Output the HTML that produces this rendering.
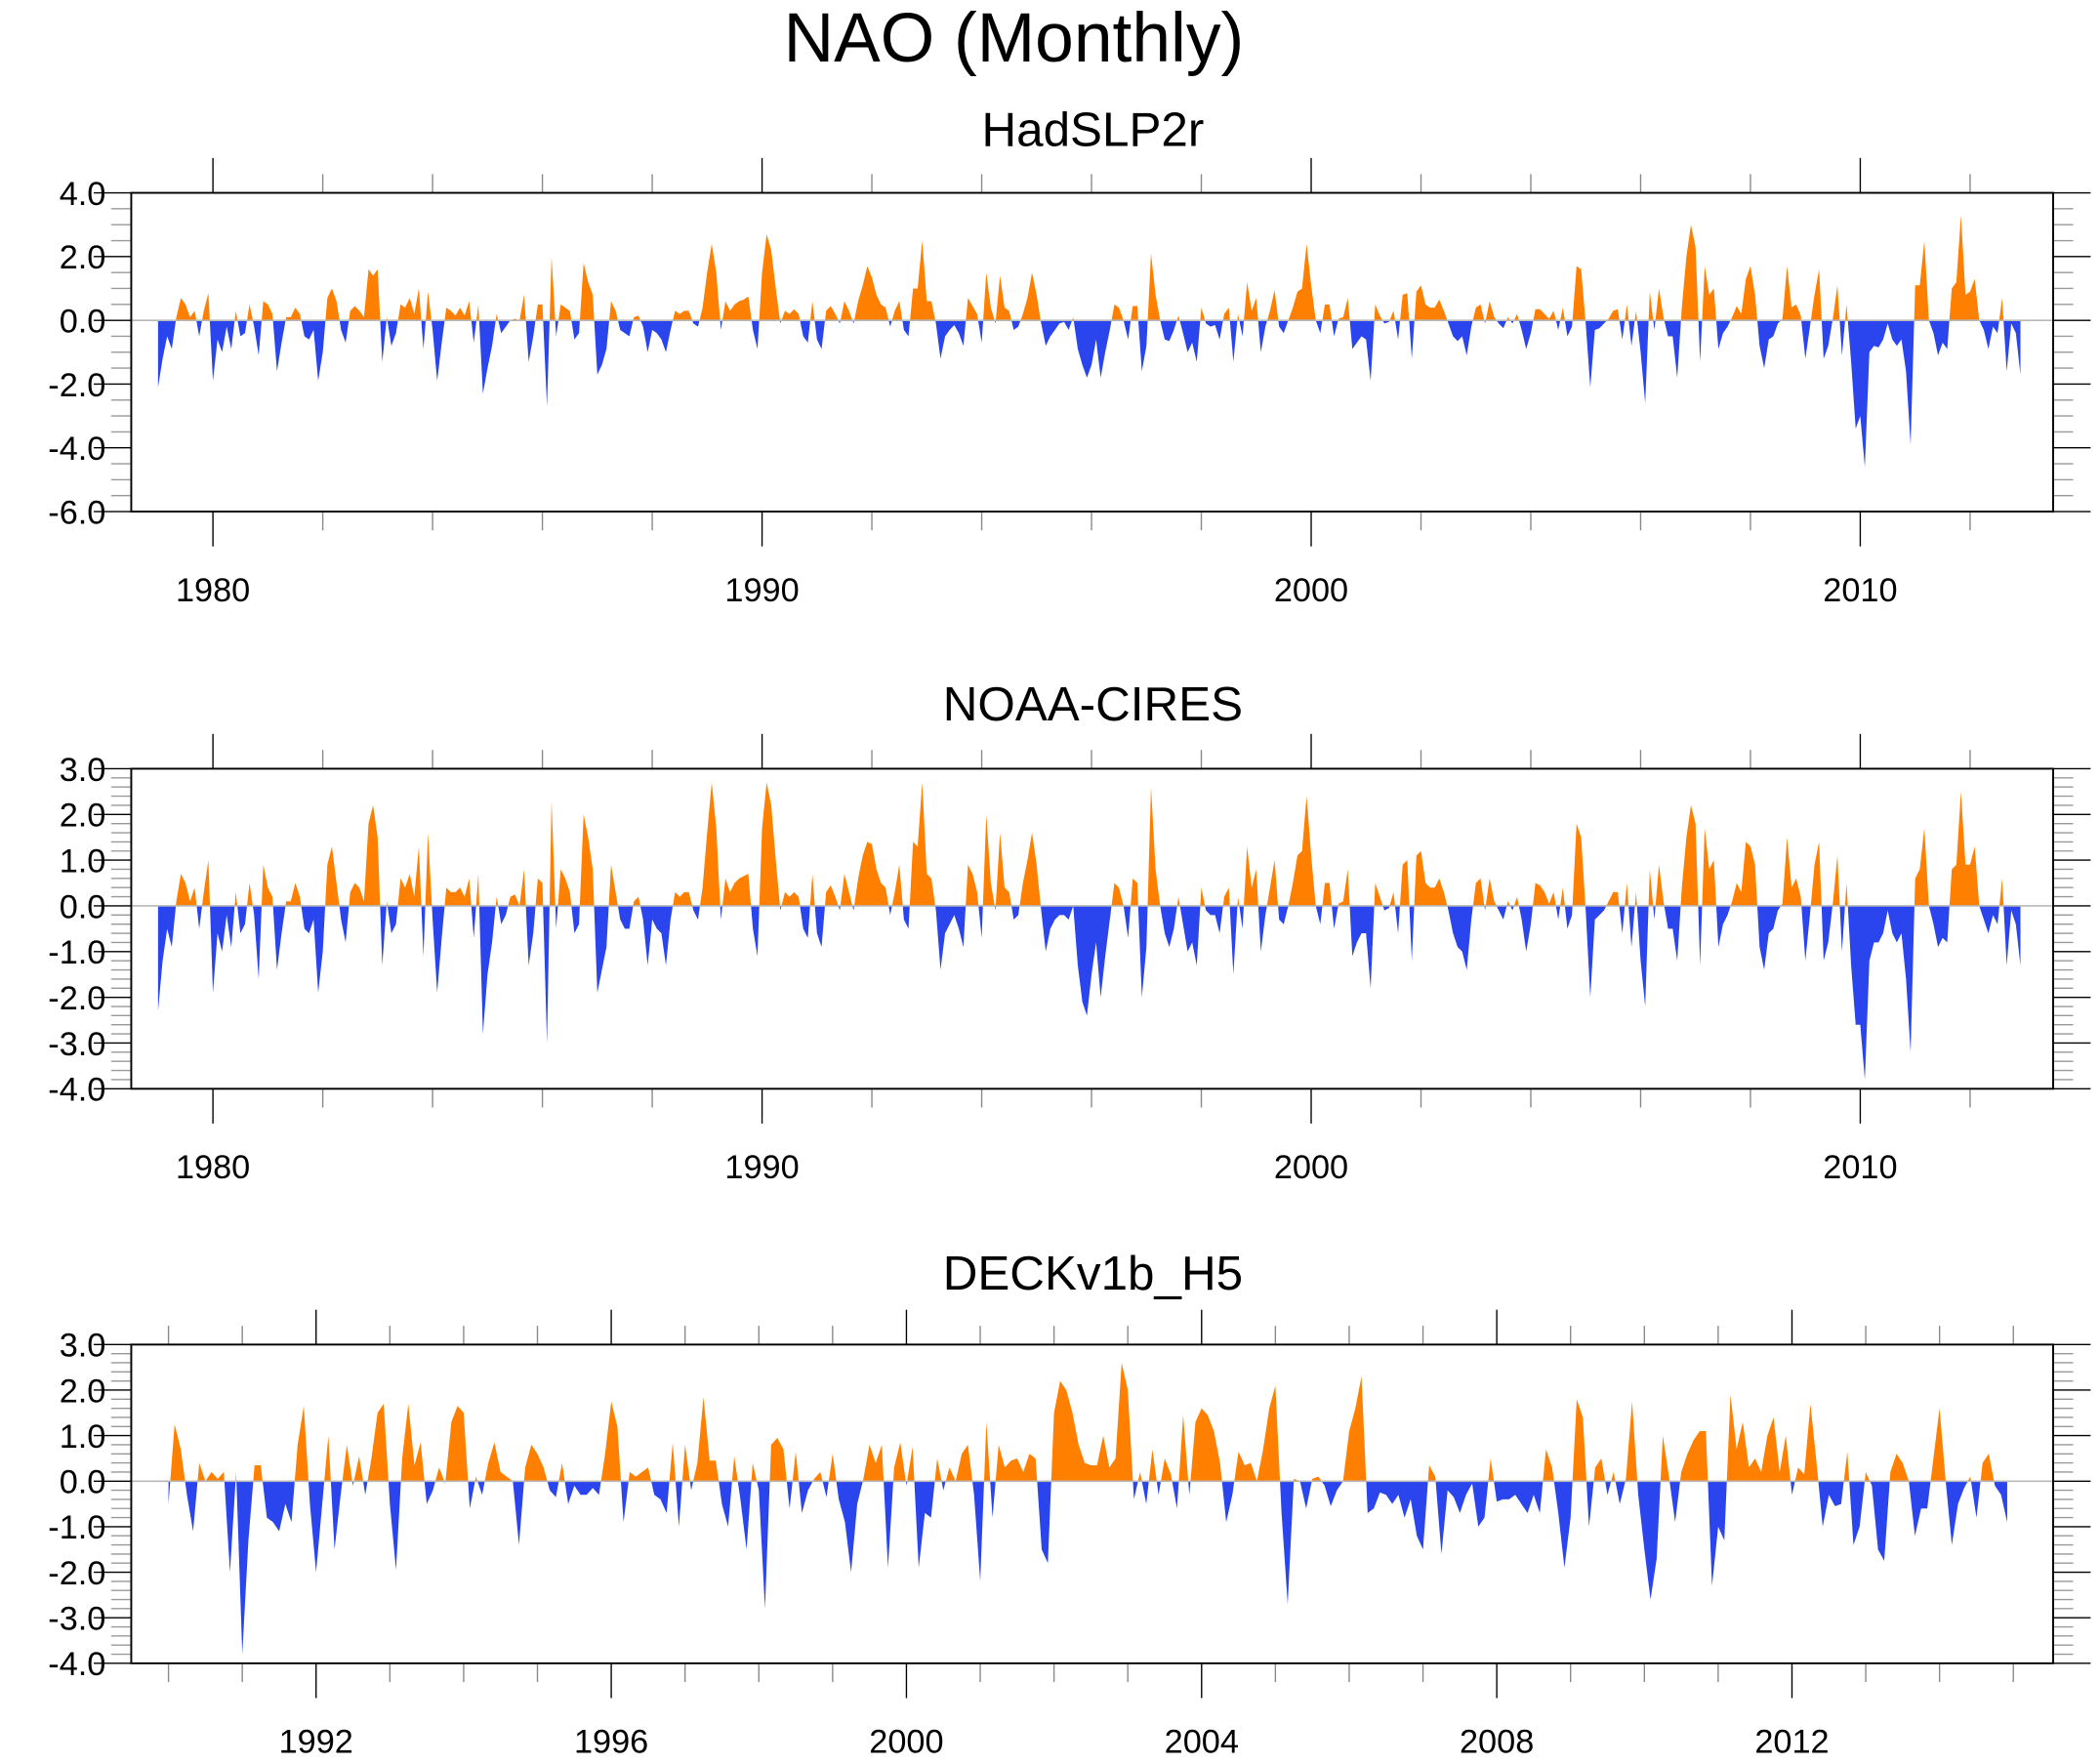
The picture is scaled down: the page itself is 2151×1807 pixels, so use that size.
<!DOCTYPE html>
<html><head><meta charset="utf-8"><title>NAO (Monthly)</title>
<style>
html,body{margin:0;padding:0;background:#fff;}
svg{display:block;font-family:"Liberation Sans",Arial,sans-serif;}
</style></head>
<body>
<svg id="chart" width="2151" height="1807" viewBox="0 0 1568 1317.2" preserveAspectRatio="none" xmlns="http://www.w3.org/2000/svg">
<rect x="0" y="0" width="1568" height="1318" fill="#fff"/>
<text x="757" y="46" font-size="52" text-anchor="middle">NAO (Monthly)</text>
<text x="816" y="109" font-size="36" text-anchor="middle">HadSLP2r</text>
<text x="816" y="538" font-size="36" text-anchor="middle">NOAA-CIRES</text>
<text x="816" y="963" font-size="36" text-anchor="middle">DECKv1b_H5</text>
<g id="p1"></g>
<g id="p2"></g>
<g id="p3"></g>
</svg>
<script>
// HadSLP2r monthly NAO, 1979-01 .. 2012-12
const hadStartYear = 1979;
const hadValues = [
-2.1,-1.2,-0.5,-0.9,0.1,0.7,0.5,0.1,0.3,-0.5,0.3,0.85,
-1.9,-0.6,-1.0,-0.2,-0.9,0.3,-0.5,-0.4,0.5,-0.2,-1.1,0.6,
0.5,0.2,-1.6,-0.7,0.1,0.1,0.4,0.2,-0.5,-0.6,-0.3,-1.9,
-1.0,0.7,1.0,0.6,-0.3,-0.7,0.3,0.45,0.3,0.1,1.6,1.4,
1.6,-1.3,0.1,-0.8,-0.4,0.5,0.4,0.7,0.2,1.0,-0.9,0.9,
-0.3,-1.9,-0.7,0.4,0.3,0.15,0.4,0.15,0.6,-0.7,0.5,-2.3,
-1.5,-0.8,0.2,-0.4,-0.2,0.0,0.05,0.0,0.8,-1.3,-0.5,0.5,
0.5,-2.7,2.0,-0.5,0.5,0.4,0.3,-0.6,-0.4,1.8,1.2,0.8,
-1.7,-1.4,-0.9,0.6,0.3,-0.3,-0.4,-0.5,0.1,0.15,-0.2,-1.0,
-0.3,-0.4,-0.6,-1.0,-0.3,0.3,0.2,0.3,0.3,-0.1,-0.2,0.4,
1.5,2.4,1.5,-0.3,0.6,0.3,0.5,0.6,0.65,0.75,-0.3,-0.9,
1.5,2.7,2.2,1.0,-0.1,0.3,0.2,0.35,0.2,-0.5,-0.7,0.6,
-0.6,-0.9,0.3,0.45,0.2,-0.1,0.6,0.3,-0.1,0.6,1.1,1.7,
1.35,0.8,0.5,0.4,-0.2,0.3,0.6,-0.3,-0.5,1.0,1.0,2.5,
0.6,0.6,-0.1,-1.2,-0.5,-0.3,-0.15,-0.4,-0.8,0.7,0.45,0.2,
-0.7,1.5,0.4,-0.1,1.4,0.4,0.3,-0.3,-0.2,0.2,0.7,1.5,
0.8,-0.1,-0.8,-0.5,-0.3,-0.1,-0.05,-0.3,0.1,-0.9,-1.4,-1.8,
-1.4,-0.6,-1.8,-1.0,-0.3,0.5,0.4,0.0,-0.6,0.45,0.45,-1.6,
-0.8,2.1,0.8,0.0,-0.6,-0.65,-0.3,0.15,-0.4,-1.0,-0.7,-1.3,
0.4,-0.1,-0.2,-0.15,-0.6,0.2,0.4,-1.3,0.2,-0.5,1.2,0.3,
0.7,-1.0,-0.2,0.3,0.95,-0.2,-0.4,0.0,0.4,0.9,1.0,2.4,
1.1,0.0,-0.4,0.5,0.5,-0.5,0.05,0.1,0.7,-0.9,-0.7,-0.5,
-0.6,-1.9,0.5,0.15,-0.1,-0.05,0.3,-0.6,0.8,0.85,-1.2,0.9,
1.1,0.5,0.4,0.4,0.65,0.3,-0.1,-0.5,-0.65,-0.5,-1.1,-0.2,
0.4,0.5,-0.1,0.6,0.1,-0.1,-0.25,0.1,-0.1,0.2,-0.3,-0.9,
-0.4,0.35,0.35,0.2,0.05,0.3,-0.3,0.4,-0.5,-0.2,1.7,1.6,
-0.1,-2.1,-0.3,-0.25,-0.1,0.05,0.3,0.35,-0.6,0.5,-0.8,0.3,
-1.0,-2.6,0.9,-0.3,1.0,0.1,-0.5,-0.5,-1.8,0.4,2.0,3.0,
2.3,-1.3,1.7,0.8,1.0,-0.9,-0.4,-0.2,0.1,0.45,0.2,1.3,
1.7,0.8,-0.8,-1.5,-0.6,-0.5,-0.1,0.05,1.7,0.4,0.5,0.15,
-1.2,-0.2,0.8,1.6,-1.2,-0.8,0.05,1.1,-1.1,0.5,-1.3,-3.4,
-3.0,-4.6,-1.0,-0.8,-0.85,-0.6,-0.1,-0.6,-0.8,-0.6,-1.6,-3.9,
1.1,1.1,2.5,0.0,-0.4,-1.1,-0.7,-0.9,1.0,1.2,3.3,0.8,
0.9,1.3,0.0,-0.3,-0.9,-0.2,-0.4,0.7,-1.6,-0.1,-0.4,-1.7
];
// NOAA-CIRES monthly NAO, 1979-01 .. 2012-12
const noaaStartYear = 1979;
const noaaValues = [
-2.3,-1.2,-0.5,-0.9,0.1,0.7,0.5,0.1,0.4,-0.5,0.3,1.0,
-1.9,-0.6,-1.0,-0.2,-0.9,0.3,-0.6,-0.4,0.5,-0.2,-1.6,0.9,
0.4,0.2,-1.4,-0.6,0.1,0.1,0.5,0.2,-0.5,-0.6,-0.3,-1.9,
-1.0,0.9,1.3,0.5,-0.3,-0.8,0.3,0.5,0.4,0.1,1.8,2.2,
1.5,-1.3,0.1,-0.6,-0.4,0.6,0.4,0.7,0.2,1.3,-1.1,1.6,
-0.3,-1.9,-0.7,0.4,0.3,0.3,0.4,0.2,0.6,-0.7,0.7,-2.8,
-1.5,-0.8,0.2,-0.4,-0.2,0.2,0.25,0.0,0.8,-1.3,-0.6,0.6,
0.5,-3.0,2.3,-0.5,0.8,0.6,0.3,-0.6,-0.4,2.0,1.5,0.8,
-1.9,-1.4,-0.9,0.9,0.3,-0.3,-0.5,-0.5,0.1,0.2,-0.3,-1.3,
-0.3,-0.5,-0.6,-1.3,-0.3,0.3,0.2,0.3,0.3,-0.1,-0.3,0.4,
1.6,2.7,1.7,-0.3,0.6,0.3,0.5,0.6,0.65,0.7,-0.5,-1.1,
1.7,2.7,2.2,1.0,-0.1,0.3,0.2,0.3,0.2,-0.5,-0.7,0.7,
-0.6,-0.9,0.3,0.45,0.2,-0.1,0.7,0.3,-0.1,0.6,1.1,1.4,
1.35,0.8,0.5,0.4,-0.2,0.3,0.9,-0.3,-0.5,1.4,1.3,2.7,
0.7,0.6,-0.1,-1.4,-0.6,-0.4,-0.2,-0.5,-0.9,0.9,0.7,0.3,
-0.7,2.0,0.5,-0.1,1.6,0.4,0.3,-0.3,-0.2,0.5,1.0,1.6,
0.9,-0.1,-1.0,-0.5,-0.3,-0.2,-0.2,-0.3,0.0,-1.3,-2.1,-2.4,
-1.5,-0.8,-2.0,-1.1,-0.3,0.5,0.4,0.0,-0.7,0.6,0.5,-2.0,
-0.9,2.6,0.8,0.0,-0.6,-0.9,-0.5,0.2,-0.4,-1.0,-0.8,-1.3,
0.4,-0.1,-0.2,-0.2,-0.6,0.2,0.4,-1.5,0.2,-0.5,1.3,0.4,
0.8,-1.0,-0.2,0.4,1.0,-0.3,-0.4,0.0,0.5,1.1,1.2,2.4,
1.1,0.0,-0.4,0.5,0.5,-0.5,0.05,0.1,0.8,-1.1,-0.8,-0.6,
-0.6,-1.8,0.5,0.2,-0.1,-0.05,0.3,-0.6,0.9,1.0,-1.2,1.1,
1.2,0.5,0.4,0.4,0.6,0.3,-0.1,-0.6,-0.9,-1.0,-1.4,-0.3,
0.5,0.6,-0.1,0.6,0.1,-0.1,-0.3,0.1,-0.1,0.2,-0.3,-1.0,
-0.4,0.5,0.45,0.3,0.05,0.3,-0.3,0.4,-0.5,-0.2,1.8,1.5,
-0.1,-2.0,-0.3,-0.2,-0.1,0.1,0.3,0.3,-0.6,0.5,-0.9,0.3,
-1.2,-2.2,0.8,-0.3,0.9,0.1,-0.5,-0.5,-1.2,0.4,1.5,2.2,
1.8,-1.3,1.7,0.8,1.0,-0.9,-0.4,-0.2,0.1,0.5,0.3,1.4,
1.3,0.9,-0.9,-1.4,-0.6,-0.5,-0.1,0.05,1.5,0.4,0.6,0.2,
-1.2,-0.2,0.9,1.4,-1.2,-0.8,0.05,1.1,-1.0,0.5,-1.3,-2.6,
-2.6,-3.8,-1.2,-0.8,-0.8,-0.6,-0.1,-0.6,-0.8,-0.6,-1.6,-3.2,
0.6,0.8,1.7,0.0,-0.4,-0.9,-0.7,-0.8,0.8,0.9,2.5,0.9,
0.9,1.3,0.0,-0.3,-0.6,-0.2,-0.4,0.6,-1.3,-0.1,-0.4,-1.3
];
// DECKv1b_H5 monthly NAO, 1990-01 .. 2014-12
const deckStartYear = 1990;
const deckValues = [
-0.5,1.25,0.7,-0.3,-1.1,0.4,0.0,0.2,0.05,0.2,-2.0,0.2,
-3.8,-1.3,0.35,0.35,-0.8,-0.9,-1.1,-0.5,-0.9,0.8,1.65,-0.5,
-2.0,-0.5,1.0,-1.5,-0.3,0.8,-0.1,0.55,-0.3,0.5,1.5,1.7,
-0.5,-1.95,0.5,1.7,0.35,0.85,-0.5,-0.2,0.3,-0.05,1.3,1.65,
1.5,-0.6,0.1,-0.3,0.4,0.85,0.2,0.1,0.0,-1.4,0.3,0.8,
0.6,0.3,-0.2,-0.35,0.4,-0.5,-0.1,-0.3,-0.3,-0.15,-0.3,0.6,
1.75,1.2,-0.9,0.2,0.1,0.2,0.3,-0.3,-0.4,-0.7,0.85,-1.0,
0.8,-0.2,0.4,1.85,0.45,0.45,-0.5,-1.0,0.55,-0.4,-1.5,0.4,
-0.2,-2.8,0.8,0.95,0.7,-0.6,0.65,-0.7,-0.2,0.05,0.2,-0.35,
0.6,-0.4,-0.9,-2.0,-0.5,0.05,0.8,0.4,0.8,-1.9,0.3,0.85,
-0.1,0.75,-1.9,-0.7,-0.8,0.5,-0.2,0.3,0.0,0.6,0.8,-0.3,
-2.2,1.3,-0.8,0.8,0.3,0.45,0.5,0.2,0.6,0.5,-1.5,-1.8,
1.5,2.2,2.0,1.5,0.8,0.4,0.35,0.35,1.0,0.3,0.5,2.6,
2.0,-0.4,0.2,-0.5,0.7,-0.3,0.5,0.15,-0.6,1.45,-0.3,1.3,
1.6,1.45,1.1,0.4,-0.9,-0.3,0.65,0.35,0.4,0.0,0.7,1.6,
2.1,-0.7,-2.7,0.05,0.0,-0.6,0.05,0.1,-0.1,-0.55,-0.2,0.0,
1.1,1.6,2.3,-0.7,-0.6,-0.25,-0.3,-0.5,-0.3,-0.8,-0.4,-1.2,
-1.5,0.35,0.1,-1.6,-0.2,-0.35,-0.7,-0.3,-0.05,-1.0,-0.8,0.5,
-0.45,-0.4,-0.4,-0.3,-0.5,-0.7,-0.3,-0.7,0.7,0.3,-0.7,-1.9,
-0.8,1.8,1.4,-1.0,0.3,0.5,-0.3,0.2,-0.5,0.05,1.75,-0.3,
-1.5,-2.6,-1.7,1.0,0.1,-0.9,0.2,0.6,0.9,1.1,1.1,-2.3,
-1.0,-1.3,1.9,0.7,1.3,0.3,0.5,0.2,1.0,1.4,0.2,1.0,
-0.3,0.3,0.15,1.7,0.4,-1.0,-0.3,-0.55,-0.5,0.65,-1.4,-1.0,
0.2,-0.1,-1.5,-1.75,0.2,0.6,0.4,0.0,-1.2,-0.6,-0.6,0.5,
1.6,0.0,-1.4,-0.5,-0.15,0.1,-0.8,0.4,0.6,-0.1,-0.3,-0.9
];
// axis tick definitions
const p1YTicks = [4,2,0,-2,-4,-6];
const p1YLabels = ["4.0","2.0","0.0","-2.0","-4.0","-6.0"];
const p2YTicks = [3,2,1,0,-1,-2,-3,-4];
const p2YLabels = ["3.0","2.0","1.0","0.0","-1.0","-2.0","-3.0","-4.0"];
const p12XTicks = [1980,1990,2000,2010];
const p3XTicks = [1992,1996,2000,2004,2008,2012];

const NS = "http://www.w3.org/2000/svg";
function mk(tag, attrs, parent){
  const e = document.createElementNS(NS, tag);
  for (const k in attrs) e.setAttribute(k, attrs[k]);
  parent.appendChild(e);
  return e;
}

function drawPanel(cfg){
  const g = document.getElementById(cfg.id);
  const L = 98, R = 1533, T = cfg.top, B = cfg.bottom;
  const ys = v => T + (cfg.ymax - v) / (cfg.ymax - cfg.ymin) * (B - T);
  const xs = y => cfg.x0 + (y - cfg.yr0) * cfg.pxYear;
  const y0 = ys(0);
  // clip paths
  const defs = mk('defs', {}, g);
  const cpa = mk('clipPath', {id: cfg.id + 'above'}, defs);
  mk('rect', {x: L, y: T, width: R - L, height: y0 - T}, cpa);
  const cpb = mk('clipPath', {id: cfg.id + 'below'}, defs);
  mk('rect', {x: L, y: y0, width: R - L, height: B - y0}, cpb);
  // area path
  let d = '';
  const vals = cfg.values;
  const x0 = xs(cfg.start);
  d += 'M' + x0.toFixed(2) + ',' + y0.toFixed(2);
  for (let i = 0; i < vals.length; i++) {
    const x = xs(cfg.start + i / 12);
    d += 'L' + x.toFixed(2) + ',' + ys(vals[i]).toFixed(2);
  }
  d += 'L' + xs(cfg.start + (vals.length - 1) / 12).toFixed(2) + ',' + y0.toFixed(2) + 'Z';
  const pos = mk('path', {d: d, fill: '#ff8000', 'clip-path': 'url(#' + cfg.id + 'above)'}, g);
  
  
  const neg = mk('path', {d: d, fill: '#2a45ee', 'clip-path': 'url(#' + cfg.id + 'below)'}, g);
  
  
  // zero line
  const zl = mk('line', {x1: L, x2: R, y1: y0, y2: y0, stroke: '#b8b8b8', 'stroke-width': 1.2}, g);
  
  
  // y ticks
  for (let v = cfg.ymin; v <= cfg.ymax + 1e-9; v += cfg.yMinor) {
    const yy = ys(v);
    const major = Math.abs(v / cfg.yMajor - Math.round(v / cfg.yMajor)) < 1e-6;
    const len = major ? 28 : 15;
    mk('line', {x1: L - len, x2: L, y1: yy, y2: yy, stroke: major ? '#000' : '#999', 'stroke-width': 1}, g);
    mk('line', {x1: R, x2: R + len, y1: yy, y2: yy, stroke: major ? '#000' : '#999', 'stroke-width': 1}, g);
  }
  cfg.yTicks.forEach((v, i) => {
    const t = mk('text', {x: 79, y: ys(v) + 9, 'font-size': 25, 'text-anchor': 'end'}, g);
    t.textContent = cfg.yLabels[i];
    
    
  });
  // x ticks
  for (let yr = cfg.xMinorStart; xs(yr) <= R; yr += cfg.xMinor) {
    const xx = xs(yr);
    if (xx < L) continue;
    const major = cfg.xTicks.indexOf(yr) >= 0;
    const len = major ? 26 : 14;
    mk('line', {x1: xx, x2: xx, y1: T - len, y2: T, stroke: major ? '#000' : '#888', 'stroke-width': 1}, g);
    mk('line', {x1: xx, x2: xx, y1: B, y2: B + len, stroke: major ? '#000' : '#888', 'stroke-width': 1}, g);
  }
  cfg.xTicks.forEach(yr => {
    const t = mk('text', {x: xs(yr), y: B + 67, 'font-size': 25, 'text-anchor': 'middle'}, g);
    t.textContent = String(yr);
    
    
  });
  // frame
  const fr = mk('rect', {x: L, y: T, width: R - L, height: B - T, fill: 'none', stroke: '#000', 'stroke-width': 1.4}, g);
  
  
}

drawPanel({id: 'p1', top: 144, bottom: 382, ymin: -6, ymax: 4, yMajor: 2, yMinor: 0.5,
  yTicks: p1YTicks, yLabels: p1YLabels, x0: 159, yr0: 1980, pxYear: 41,
  xTicks: p12XTicks, xMinor: 2, xMinorStart: 1978, values: hadValues, start: hadStartYear});
drawPanel({id: 'p2', top: 574, bottom: 813, ymin: -4, ymax: 3, yMajor: 1, yMinor: 0.2,
  yTicks: p2YTicks, yLabels: p2YLabels, x0: 159, yr0: 1980, pxYear: 41,
  xTicks: p12XTicks, xMinor: 2, xMinorStart: 1978, values: noaaValues, start: noaaStartYear});
drawPanel({id: 'p3', top: 1004, bottom: 1242, ymin: -4, ymax: 3, yMajor: 1, yMinor: 0.2,
  yTicks: p2YTicks, yLabels: p2YLabels, x0: 236, yr0: 1992, pxYear: 55.1,
  xTicks: p3XTicks, xMinor: 1, xMinorStart: 1989, values: deckValues, start: deckStartYear});
</script>
</body></html>
